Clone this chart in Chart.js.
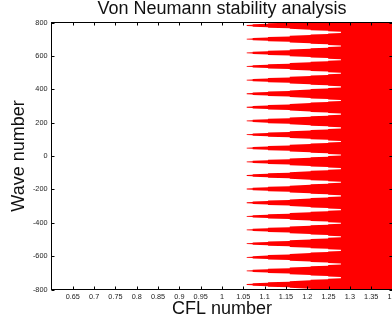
<!DOCTYPE html>
<html>
<head>
<meta charset="utf-8">
<script src="https://cdn.jsdelivr.net/npm/chart.js@4.4.1/dist/chart.umd.min.js"></script>
<style>
  html, body { margin: 0; padding: 0; background: #fff; overflow: hidden; }
  #chart { display: block; }
</style>
</head>
<body>
<canvas id="chart" width="410" height="329"></canvas>
<script>
// Centres des bandes instables (nombre d'onde), de haut en bas
const bandCenters = [782, 700, 618, 537, 455, 373, 292, 210, 128, 47, -35, -117, -198, -280, -362, -443, -525, -607, -688, -770];
// Demi-période entre deux bandes
const halfPeriod = 40.8;
// Bornes CFL des marches de l'escalier
const stepCfl = [1.058, 1.072, 1.108, 1.159, 1.208, 1.249, 1.279];
// Demi-largeur de la bande (nombre d'onde) au début et à la fin de chaque marche
const halfStart = [2.5, 7, 13, 20, 28, 34.5];
const halfEnd = [4, 10, 16, 25, 31, 37.5];

const xTicks = [0.65, 0.7, 0.75, 0.8, 0.85, 0.9, 0.95, 1, 1.05, 1.1, 1.15, 1.2, 1.25, 1.3, 1.35, 1.4];
const yTicks = [-800, -600, -400, -200, 0, 200, 400, 600, 800];

const FONT = "'Liberation Sans', Arial, Helvetica, sans-serif";

// Contour de la zone instable, du haut vers le bas ; la zone est remplie jusqu'au bord droit
function buildBoundary() {
  const last = stepCfl[stepCfl.length - 1];
  const pts = [{ x: last, y: bandCenters[0] + halfPeriod + 50 }];
  bandCenters.forEach(c => {
    for (let k = halfStart.length - 1; k >= 0; k--) {
      pts.push({ x: stepCfl[k + 1], y: c + halfEnd[k] });
      pts.push({ x: stepCfl[k], y: c + halfStart[k] });
    }
    for (let k = 0; k < halfStart.length; k++) {
      pts.push({ x: stepCfl[k], y: c - halfStart[k] });
      pts.push({ x: stepCfl[k + 1], y: c - halfEnd[k] });
    }
  });
  pts.push({ x: last, y: bandCenters[bandCenters.length - 1] - halfPeriod - 50 });
  return pts;
}

// Cadre façon MATLAB : boîte complète + graduations vers l'intérieur + titre
const boxTicks = {
  id: "boxTicks",
  afterDatasetsDraw(chart) {
    const { ctx, chartArea: a, scales: { x, y } } = chart;
    const len = 3;
    ctx.save();
    ctx.strokeStyle = "#000";
    ctx.lineWidth = 1;
    ctx.beginPath();
    x.ticks.forEach(t => {
      const px = Math.round(x.getPixelForValue(t.value)) + 0.5;
      ctx.moveTo(px, a.bottom); ctx.lineTo(px, a.bottom - len);
      ctx.moveTo(px, a.top); ctx.lineTo(px, a.top + len);
    });
    y.ticks.forEach(t => {
      const py = Math.round(y.getPixelForValue(t.value)) + 0.5;
      ctx.moveTo(a.left, py); ctx.lineTo(a.left + len, py);
      ctx.moveTo(a.right, py); ctx.lineTo(a.right - len, py);
    });
    ctx.stroke();
    ctx.strokeRect(a.left, a.top, a.right - a.left, a.bottom - a.top);

    ctx.fillStyle = "#111";
    ctx.font = "18px " + FONT;
    ctx.textAlign = "center";
    ctx.textBaseline = "alphabetic";
    ctx.fillText("Von Neumann stability analysis", (a.left + a.right) / 2, 13.5);
    ctx.restore();
  }
};

new Chart(document.getElementById("chart"), {
  type: "line",
  data: {
    datasets: [{
      data: buildBoundary(),
      // avec indexAxis "y", on remplit vers la droite jusqu'au bord de l'axe x
      fill: { value: 1.4 },
      backgroundColor: "#ff0000",
      borderWidth: 0,
      pointRadius: 0,
      tension: 0
    }]
  },
  options: {
    indexAxis: "y",
    responsive: false,
    animation: false,
    layout: { padding: { top: 22.5, right: 17.5, left: 0, bottom: 0 } },
    plugins: { legend: { display: false }, tooltip: { enabled: false }, title: { display: false } },
    scales: {
      x: {
        type: "linear",
        min: 0.6,
        max: 1.4,
        grid: { display: false, drawTicks: false },
        border: { display: false },
        afterBuildTicks: s => { s.ticks = xTicks.map(v => ({ value: v })); },
        afterFit: s => { s.height = 39.5; },
        ticks: {
          autoSkip: false, maxRotation: 0, minRotation: 0, padding: 3,
          color: "#222", font: { family: FONT, size: 7.3 },
          callback: v => String(+Number(v).toFixed(2))
        },
        title: {
          display: true, text: "CFL number", color: "#111",
          font: { family: FONT, size: 18, lineHeight: 1.2 },
          padding: { top: 0, bottom: 9.4 }
        }
      },
      y: {
        type: "linear",
        min: -800,
        max: 800,
        grid: { display: false, drawTicks: false },
        border: { display: false },
        afterBuildTicks: s => { s.ticks = yTicks.map(v => ({ value: v })); },
        afterFit: s => { s.width = 51.5; },
        ticks: {
          autoSkip: false, padding: 4,
          color: "#222", font: { family: FONT, size: 7.3 },
          callback: v => String(v)
        },
        title: {
          display: true, text: "Wave number", color: "#111",
          font: { family: FONT, size: 18, lineHeight: 1.2 },
          padding: { top: 8, bottom: 0 }
        }
      }
    }
  },
  plugins: [boxTicks]
});
</script>
</body>
</html>
